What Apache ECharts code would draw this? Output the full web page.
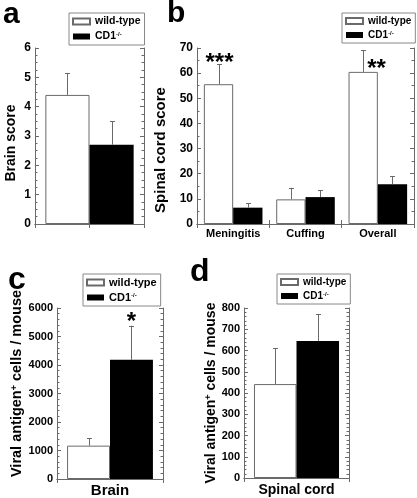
<!DOCTYPE html>
<html><head><meta charset="utf-8">
<script src="https://cdn.jsdelivr.net/npm/echarts@6/dist/echarts.min.js"></script>
<style>html,body{margin:0;padding:0;background:#fff}#c{width:417px;height:498px}</style>
</head><body><div id="c"></div>
<script>
// ---------- data ----------
const legendNames = ['wild-type', 'CD1'];
const catsA = [''];
const wtA = [4.4];
const wtErrA = [0.75];
const koA = [2.7];
const koErrA = [0.8];
const ticksA = [0, 6, 1];

const catsB = ['Meningitis', 'Cuffing', 'Overall'];
const wtB = [55.6, 9.8, 60.5];
const wtErrB = [7.9, 4.6, 8.7];
const koB = [6.5, 10.7, 15.8];
const koErrB = [1.7, 2.7, 3.3];
const sigWtB = ['***', '', '**'];
const ticksB = [0, 70, 10];

const catsC = ['Brain'];
const wtC = [1170];
const wtErrC = [260];
const koC = [4180];
const koErrC = [1200];
const sigKoC = ['*'];
const ticksC = [0, 6000, 1000];

const catsD = ['Spinal cord'];
const wtD = [442];
const wtErrD = [170];
const koD = [645];
const koErrD = [127];
const ticksD = [0, 800, 100];

// ---------- styling ----------
const FONT = '"Liberation Sans", Arial, Helvetica, sans-serif';
const AX = '#6a6a6a';
const GAP = 0.19;

const panels = [
  {grid:{left:35, top:48, width:109, height:176}, cats:catsA, wt:wtA, wtE:wtErrA, ko:koA, koE:koErrA, ticks:ticksA,
   minor:4, yFs:12, name:'Brain score', nameFs:14, nameGap:17, namePad:[0,14,0,0],
   topCats:['',''], bottomTick:false, xFs:0, xMargin:4, sigWt:null, sigKo:null},
  {grid:{left:197, top:48, width:217, height:176}, cats:catsB, wt:wtB, wtE:wtErrB, ko:koB, koE:koErrB, ticks:ticksB,
   minor:2, yFs:12, name:'Spinal cord score', nameFs:15, nameGap:20, namePad:[0,28,0,0],
   topCats:catsB, bottomTick:true, xFs:11, xMargin:4, sigWt:sigWtB, sigKo:null,
   sigOff:[[0,11],[0,0],[13,31]]},
  {grid:{left:57, top:308, width:106, height:171}, cats:catsC, wt:wtC, wtE:wtErrC, ko:koC, koE:koErrC, ticks:ticksC,
   minor:5, yFs:11, name:'Viral antigen{sup|+} cells / mouse', nameFs:14.5, nameGap:32, namePad:[0,0,0,20],
   topCats:[''], bottomTick:false, xFs:15, xMargin:4, sigWt:null, sigKo:sigKoC, sigOff:[[0,9]]},
  {grid:{left:244, top:308, width:105, height:170}, cats:catsD, wt:wtD, wtE:wtErrD, ko:koD, koE:koErrD, ticks:ticksD,
   minor:5, yFs:11, name:'Viral antigen{sup|+} cells / mouse', nameFs:14, nameGap:21, namePad:[0,0,0,0],
   topCats:[''], bottomTick:false, xFs:14, xMargin:5, sigWt:null, sigKo:null}
];

function errRender(side, sig, sigOff) {
  return function (params, api) {
    const ci = api.value(0), v = api.value(1), e = api.value(2);
    const band = api.size([1, 0])[0];
    const bw = band * (1 - GAP) / 2;
    const p0 = api.coord([ci, v]);
    const p1 = api.coord([ci, v + e]);
    const x = Math.round(p0[0] + side * bw / 2) + 0.5;
    const children = [
      {type:'line', shape:{x1:x, y1:p0[1], x2:x, y2:p1[1]}, style:{stroke:AX, lineWidth:1}},
      {type:'line', shape:{x1:x - 2.5, y1:Math.round(p1[1]) + 0.5, x2:x + 2.5, y2:Math.round(p1[1]) + 0.5}, style:{stroke:AX, lineWidth:1}}
    ];
    if (sig && sig[ci]) {
      const off = sigOff[ci];
      children.push({type:'text', style:{text:sig[ci], x:x + off[0], y:p1[1] + off[1],
        align:'center', verticalAlign:'bottom', font:'bold 24px ' + FONT, fill:'#000'}});
    }
    return {type:'group', children};
  };
}

const grid = [], xAxis = [], yAxis = [], series = [], legend = [];
panels.forEach((p, i) => {
  grid.push(Object.assign({containLabel:false}, p.grid));
  xAxis.push({type:'category', gridIndex:i, position:'bottom', data:p.cats,
    axisLine:{lineStyle:{color:AX, width:1}},
    axisTick:{show:p.bottomTick, inside:true, length:4, lineStyle:{color:AX}},
    axisLabel:{show:p.xFs > 0, fontSize:p.xFs, fontWeight:'bold', color:'#000', fontFamily:FONT, margin:p.xMargin},
    splitLine:{show:false}});
  xAxis.push({type:'category', gridIndex:i, position:'top', data:p.topCats,
    axisLine:{lineStyle:{color:AX, width:1}},
    axisTick:{show:true, inside:true, length:4, lineStyle:{color:AX}},
    axisLabel:{show:false}, splitLine:{show:false}});
  const yBase = {type:'value', gridIndex:i, min:p.ticks[0], max:p.ticks[1], interval:p.ticks[2],
    axisLine:{show:true, lineStyle:{color:AX, width:1}},
    axisTick:{show:true, inside:true, length:4, lineStyle:{color:AX}},
    minorTick:{show:true, splitNumber:p.minor, length:2.5, lineStyle:{color:AX, width:1}},
    splitLine:{show:false}, minorSplitLine:{show:false}};
  yAxis.push(Object.assign({}, yBase, {position:'left',
    axisLabel:{fontSize:p.yFs, fontWeight:'bold', color:'#000', fontFamily:FONT, margin:4, formatter:v => String(v)},
    name:p.name, nameLocation:'middle', nameGap:p.nameGap, nameRotate:90,
    nameTextStyle:{fontSize:p.nameFs, fontWeight:'bold', color:'#000', fontFamily:FONT, padding:p.namePad,
      rich:{sup:{fontSize:Math.round(p.nameFs * 0.62), fontWeight:'bold', color:'#000', fontFamily:FONT, verticalAlign:'top'}}}}));
  yAxis.push(Object.assign({}, yBase, {position:'right', axisLabel:{show:false}}));

  series.push({type:'bar', name:'wild-type', xAxisIndex:2 * i, yAxisIndex:2 * i, data:p.wt,
    barGap:'0%', barCategoryGap:(GAP * 100) + '%',
    itemStyle:{color:'#fff', borderColor:AX, borderWidth:1}, silent:true});
  series.push({type:'bar', name:'CD1', xAxisIndex:2 * i, yAxisIndex:2 * i, data:p.ko,
    barGap:'0%', barCategoryGap:(GAP * 100) + '%',
    itemStyle:{color:'#000'}, silent:true});
  series.push({type:'custom', xAxisIndex:2 * i, yAxisIndex:2 * i, z:5, silent:true,
    data:p.wt.map((v, k) => [k, v, p.wtE[k]]), renderItem:errRender(-1, p.sigWt, p.sigOff)});
  series.push({type:'custom', xAxisIndex:2 * i, yAxisIndex:2 * i, z:5, silent:true,
    data:p.ko.map((v, k) => [k, v, p.koE[k]]), renderItem:errRender(1, p.sigKo, p.sigOff)});
});

const legendPos = [{left:69, top:13, fs:10.5}, {left:342, top:13, fs:10}, {left:83, top:274, fs:11}, {left:277, top:274, fs:10}];
legendPos.forEach(pos => {
  legend.push({orient:'vertical', left:pos.left, top:pos.top, data:legendNames, icon:'rect', itemWidth:17, itemHeight:6,
    itemGap:4, padding:[3, 4, 3, 3], borderColor:'#888', borderWidth:1, selectedMode:false,
    formatter:n => n === 'CD1' ? 'CD1{sup|-/-}' : n,
    textStyle:{fontSize:pos.fs, fontWeight:'bold', color:'#000', fontFamily:FONT,
      rich:{sup:{fontSize:6, fontWeight:'bold', color:'#000', fontFamily:FONT, verticalAlign:'top'}}}});
});

const letters = [['a', 3, 0, 30], ['b', 167, -1, 30], ['c', 8, 264, 32], ['d', 190, 256, 32]];
const graphic = letters.map(l => ({type:'text', left:l[1], top:l[2], silent:true,
  style:{text:l[0], font:'bold ' + l[3] + 'px ' + FONT, fill:'#000'}}));

const chart = echarts.init(document.getElementById('c'), null, {renderer:'canvas'});
chart.setOption({animation:false, backgroundColor:'#fff', grid, xAxis, yAxis, series, legend, graphic, tooltip:{show:false}});
</script></body></html>
